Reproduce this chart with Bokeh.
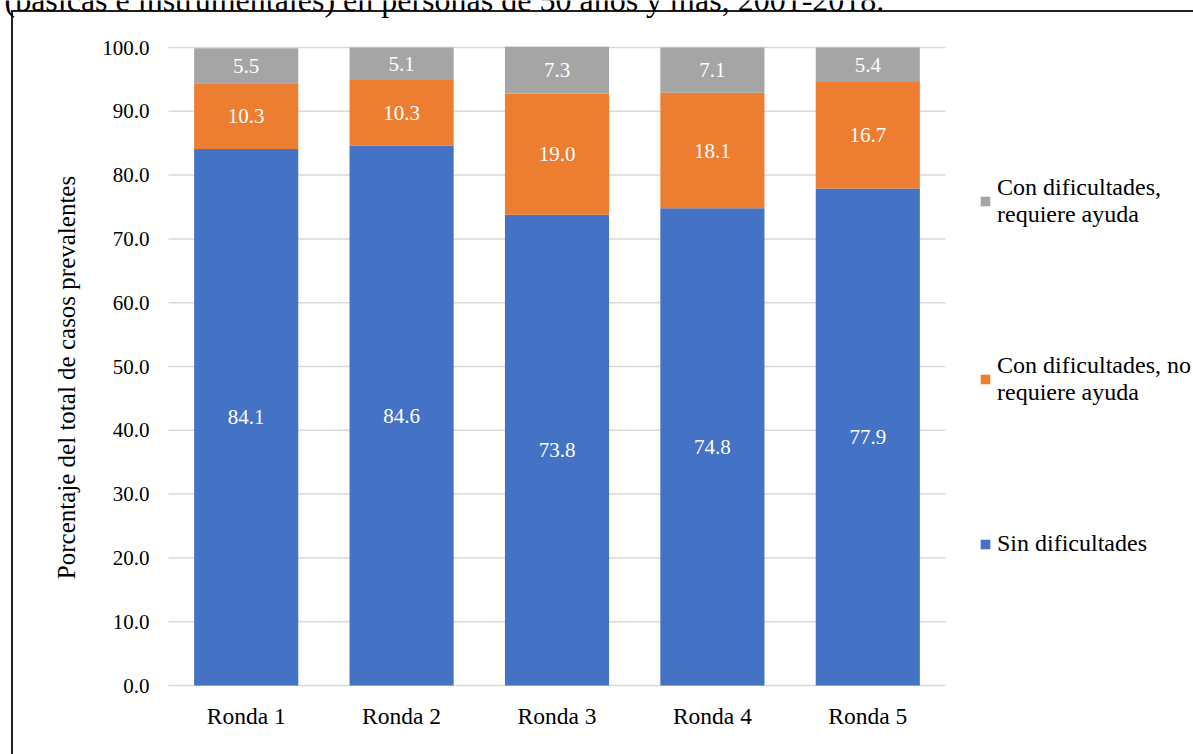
from bokeh.plotting import figure
from bokeh.models import (ColumnDataSource, Legend, LegendItem, Label,
                          NumeralTickFormatter, FixedTicker, Range1d)
from bokeh.core.properties import value
from bokeh.embed import file_html
from bokeh.resources import INLINE

# Data
rondas = ["Ronda 1", "Ronda 2", "Ronda 3", "Ronda 4", "Ronda 5"]
sin_dificultades = [84.1, 84.6, 73.8, 74.8, 77.9]
con_dif_no_ayuda = [10.3, 10.3, 19.0, 18.1, 16.7]
con_dif_ayuda = [5.5, 5.1, 7.3, 7.1, 5.4]

series = ["sin", "no_ayuda", "ayuda"]
series_names = ["Sin dificultades", "Con dificultades, no\nrequiere ayuda",
                "Con dificultades,\nrequiere ayuda"]
colors = ["#4472C4", "#ED7D31", "#A5A5A5"]
y_ticks = [0, 10, 20, 30, 40, 50, 60, 70, 80, 90, 100]

titulo = "(básicas e instrumentales) en personas de 50 años y más, 2001-2018."
y_title = "Porcentaje del total de casos prevalentes"

FONT = "Liberation Serif"

# Page geometry: the plotting frame fills the whole canvas and the axes are
# pinned at fixed data locations, so the bar area sits inside it.
W, H = 1193, 754
PL, PT, PB = 168, 47, 685        # bar-area left / top / bottom in pixels
SLOT = 155.4                     # pixels per category slot
n = len(rondas)
xs = list(range(1, n + 1))
px_per_unit = (PB - PT) / 100.0

x_left_edge = 0.5
x_start = x_left_edge - PL / SLOT
x_end = x_left_edge + (W - PL) / SLOT
y_start = -(H - PB) / px_per_unit
y_end = 100 + PT / px_per_unit

src = ColumnDataSource(dict(x=xs, sin=sin_dificultades,
                            no_ayuda=con_dif_no_ayuda, ayuda=con_dif_ayuda))

p = figure(width=W, height=H, x_range=Range1d(x_start, x_end),
           y_range=Range1d(y_start, y_end), output_backend="svg",
           toolbar_location=None, min_border=0)
p.outline_line_color = None
p.background_fill_color = None
p.border_fill_color = None

# Frame box lines (left and top edges) painted under the transparent canvas
p.styles = {
    "background-color": "white",
    "background-image": "linear-gradient(#222,#222), linear-gradient(#222,#222)",
    "background-size": f"2px {H}px, {W}px 2px",
    "background-position": "11px 10px, 11px 10px",
    "background-repeat": "no-repeat",
}

# Horizontal gridlines across the category slots only
p.segment(x0=[x_left_edge] * len(y_ticks), x1=[n + 0.5] * len(y_ticks),
          y0=y_ticks, y1=y_ticks, line_color="#D9D9D9", line_width=1.5)
p.grid.visible = False

renderers = p.vbar_stack(series, x="x", width=0.67, source=src, color=colors,
                         line_color=None)

# Segment labels at the middle of each stacked piece
lab_x, lab_y, lab_t = [], [], []
for i, xv in enumerate(xs):
    base = 0.0
    for vals in (sin_dificultades, con_dif_no_ayuda, con_dif_ayuda):
        v = vals[i]
        lab_x.append(xv)
        lab_y.append(base + v / 2)
        lab_t.append(f"{v:.1f}")
        base += v
p.text(x=lab_x, y=lab_y, text=lab_t, text_color="white", text_align="center",
       text_baseline="middle", text_font=value(FONT), text_font_size="21px")

# Axes pinned to the bar area
p.xaxis.fixed_location = 0
p.yaxis.fixed_location = x_left_edge
p.xaxis.ticker = FixedTicker(ticks=xs)
p.xaxis.major_label_overrides = {xv: name for xv, name in zip(xs, rondas)}
p.yaxis.ticker = FixedTicker(ticks=y_ticks)
p.yaxis.formatter = NumeralTickFormatter(format="0.0")
for ax in (p.xaxis[0], p.yaxis[0]):
    ax.axis_line_color = None
    ax.major_tick_line_color = None
    ax.minor_tick_line_color = None
    ax.major_label_text_font = FONT
    ax.major_label_text_color = "#000000"
p.yaxis.major_label_text_font_size = "21px"
p.xaxis.major_label_text_font_size = "23.5px"
p.yaxis.major_label_standoff = 13
p.xaxis.major_label_standoff = 11
p.yaxis.axis_label = y_title
p.yaxis.axis_label_text_font = FONT
p.yaxis.axis_label_text_font_style = "normal"
p.yaxis.axis_label_text_font_size = "25px"
p.yaxis.axis_label_text_color = "#000000"
p.yaxis.axis_label_standoff = 19

# Legend to the right of the bars, top item first; location is its bottom-left corner
items = [LegendItem(label=series_names[k], renderers=[renderers[k]]) for k in (2, 1, 0)]
legend = Legend(items=items, location=(979, H - 557), padding=0, margin=0,
                spacing=124, border_line_color=None, background_fill_alpha=0,
                label_text_font=FONT, label_text_font_size="24px",
                label_text_line_height=1.1,
                label_text_color="#000000", glyph_width=12, glyph_height=12,
                label_standoff=6, label_height=24)
p.add_layout(legend, "center")

# Caption line above the chart, running off the top of the page
p.add_layout(Label(x=4, y=H + 1, x_units="screen", y_units="screen",
                   text=titulo, text_font=FONT, text_font_size="32px",
                   text_color="#000000", text_baseline="alphabetic"))

open("out.html", "w").write(file_html(p, INLINE))
